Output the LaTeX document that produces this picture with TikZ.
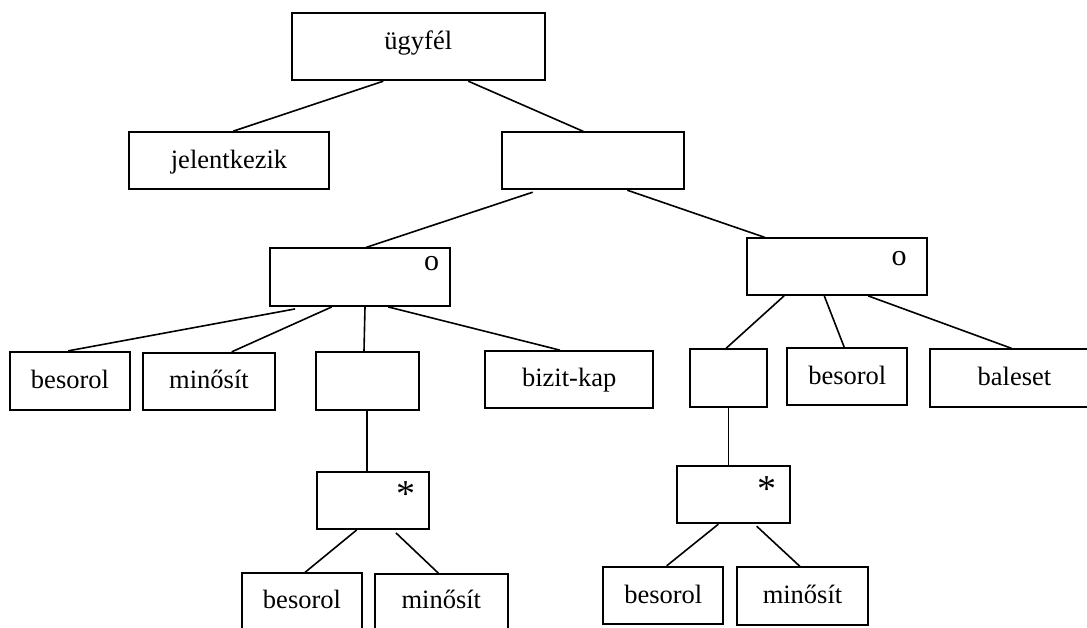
\documentclass[tikz,border=0pt]{standalone}
\usepackage{fontspec}
\setmainfont{Liberation Serif}
\begin{document}
\begin{tikzpicture}[x=1pt,y=-1pt,line width=1.8pt,
  box/.style={draw,rectangle,inner sep=0pt,text height=15pt,text depth=0pt,
    font=\fontsize{26.5}{30}\selectfont},
  mark o/.style={inner sep=0pt,font=\fontsize{30}{32}\selectfont},
  mark star/.style={inner sep=0pt,font=\fontsize{38}{40}\selectfont},
  conn/.style={line width=1.6pt}]
\useasboundingbox (0,0) rectangle (1087,628);
\clip (0,0) rectangle (1087,628);
\fill[white] (0,0) rectangle (1087,628);
% level 0/1
\node[box,minimum width=253.3pt,minimum height=67pt,text height=5pt] (ugy) at (418.3,46.8) {ügyfél};
\node[box,minimum width=199.4pt,minimum height=57.3pt] (jel) at (229,160.7) {jelentkezik};
\node[box,minimum width=182.3pt,minimum height=57pt] (un) at (593.2,160.8) {};
% o boxes
\node[box,minimum width=180pt,minimum height=57.7pt] (oL) at (360,277.2) {};
\node[box,minimum width=180pt,minimum height=56.7pt] (oR) at (836.7,266.7) {};
\node[mark o] (oLm) at (431.7,264) {o};
\node[mark o] (oRm) at (899,259) {o};
% row 3
\node[box,minimum width=120pt,minimum height=58.3pt] (besL) at (70,380.9) {besorol};
\node[box,minimum width=132.6pt,minimum height=57.3pt] (minL) at (209,381.4) {minősít};
\node[box,minimum width=103.3pt,minimum height=58.3pt] (eL) at (367.7,380.9) {};
\node[box,minimum width=168.3pt,minimum height=56.7pt] (biz) at (569.2,379.4) {bizit-kap};
\node[box,minimum width=77.3pt,minimum height=57.4pt] (eR) at (728.7,378) {};
\node[box,minimum width=120pt,minimum height=56.7pt] (besR) at (847.3,376.7) {besorol};
\node[box,minimum width=169pt,minimum height=57.4pt] (bal) at (1014.5,378) {baleset};
% star boxes
\node[box,minimum width=112pt,minimum height=57.3pt] (sL) at (372.7,500.4) {};
\node[box,minimum width=112.7pt,minimum height=57.3pt] (sR) at (733.7,494.7) {};
\node[mark star] (sLm) at (405.7,494) {*};
\node[mark star] (sRm) at (766.7,489) {*};
% bottom row
\node[box,minimum width=120.6pt,minimum height=57.4pt,text height=12pt] (besBL) at (302,602) {besorol};
\node[box,minimum width=132.7pt,minimum height=57pt,text height=12pt] (minBL) at (441.3,602.5) {minősít};
\node[box,minimum width=120pt,minimum height=57.6pt] (besBR) at (663.3,595.5) {besorol};
\node[box,minimum width=131.6pt,minimum height=57.7pt] (minBR) at (802.5,596.2) {minősít};
% connectors
\draw[conn] ([xshift=-35pt]ugy.south) -- ([xshift=4.3pt]jel.north);
\draw[conn] ([xshift=50pt]ugy.south) -- ([xshift=-9.9pt]un.north);
\draw[conn] ([xshift=-60.5pt,yshift=-2pt]un.south) -- ([xshift=6pt]oL.north);
\draw[conn] ([xshift=34.1pt]un.south) -- ([xshift=-71.7pt]oR.north);
\draw[conn] ([xshift=-65pt,yshift=-2pt]oL.south) -- ([xshift=-1.7pt]besL.north);
\draw[conn] ([xshift=-28.3pt]oL.south) -- ([xshift=22.7pt]minL.north);
\draw[conn] ([xshift=5pt]oL.south) -- ([xshift=-3.7pt]eL.north);
\draw[conn] ([xshift=28.3pt]oL.south) -- ([xshift=-9.2pt]biz.north);
\draw[conn] ([xshift=-52.7pt]oR.south) -- ([xshift=-2.7pt]eR.north);
\draw[conn] ([xshift=-12.4pt]oR.south) -- ([xshift=-3pt]besR.north);
\draw[conn] ([xshift=31.6pt]oR.south) -- ([xshift=-2.8pt]bal.north);
\draw[conn] ([xshift=-1pt]eL.south) -- ([xshift=-6pt]sL.north);
\draw[conn] ([xshift=-0.4pt]eR.south) -- ([xshift=-5.4pt]sR.north);
\draw[conn] ([xshift=-16pt]sL.south) -- ([xshift=3pt]besBL.north);
\draw[conn] ([xshift=23.3pt,yshift=-3pt]sL.south) -- ([xshift=-3pt]minBL.north);
\draw[conn] ([xshift=-15.4pt]sR.south) -- ([xshift=3.4pt]besBR.north);
\draw[conn] ([xshift=23pt,yshift=-2pt]sR.south) -- ([xshift=-2.5pt]minBR.north);
\end{tikzpicture}
\end{document}
